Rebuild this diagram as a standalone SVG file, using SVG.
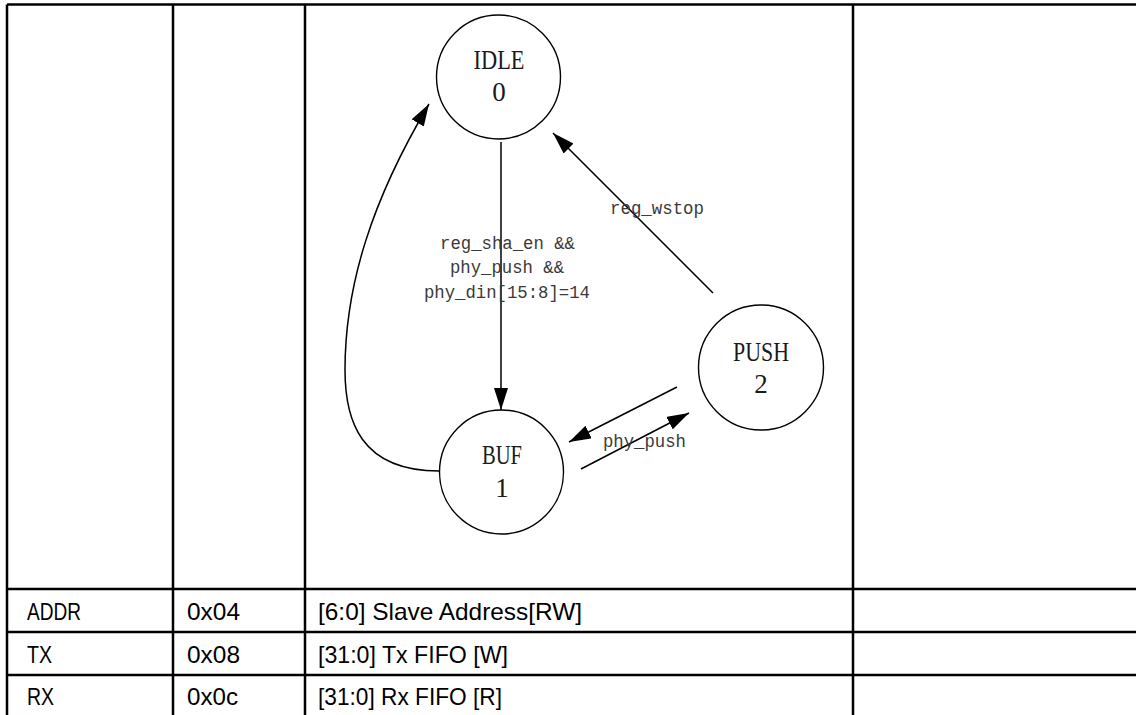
<svg xmlns="http://www.w3.org/2000/svg" width="1136" height="715" viewBox="0 0 1136 715">
<style>
.grid{stroke:#000;stroke-width:2.5;fill:none}
.state{fill:#fff;stroke:#000;stroke-width:1.4}
.sl{font-family:"Liberation Serif",serif;font-size:27px;fill:#1a1a1a;text-anchor:middle}
.edge{stroke:#000;stroke-width:1.5;fill:none;marker-end:url(#arr)}
.el{font-family:"Liberation Mono",monospace;font-size:19px;fill:#3a3a3a}
.cell{font-family:"Liberation Sans",sans-serif;font-size:24px;fill:#000}
</style>
<defs>
<marker id="arr" viewBox="0 0 22 14" refX="22" refY="7" markerWidth="22" markerHeight="14" markerUnits="userSpaceOnUse" orient="auto">
<path d="M0,0 L22,7 L0,14 z" fill="#000"/>
</marker>
</defs>
<rect width="1136" height="715" fill="#fff"/>
<g id="table">
<path class="grid" d="M7,4.5 H1136 M7,4.5 V715 M173,4.5 V715 M305,4.5 V715 M853,4.5 V715 M7,589 H1136 M7,632 H1136 M7,675 H1136"/>
<text class="cell" x="27" y="620" textLength="54" lengthAdjust="spacingAndGlyphs">ADDR</text>
<text class="cell" x="187" y="620" textLength="53" lengthAdjust="spacingAndGlyphs">0x04</text>
<text class="cell" x="318" y="620" textLength="264" lengthAdjust="spacingAndGlyphs">[6:0] Slave Address[RW]</text>
<text class="cell" x="27" y="663" textLength="25" lengthAdjust="spacingAndGlyphs">TX</text>
<text class="cell" x="187" y="663" textLength="53" lengthAdjust="spacingAndGlyphs">0x08</text>
<text class="cell" x="318" y="663" textLength="190" lengthAdjust="spacingAndGlyphs">[31:0] Tx FIFO [W]</text>
<text class="cell" x="27" y="705" textLength="27" lengthAdjust="spacingAndGlyphs">RX</text>
<text class="cell" x="187" y="705" textLength="51" lengthAdjust="spacingAndGlyphs">0x0c</text>
<text class="cell" x="318" y="705" textLength="184" lengthAdjust="spacingAndGlyphs">[31:0] Rx FIFO [R]</text>
</g>
<g id="connectors">
<path class="edge" d="M501,142 L501,410"/>
<path class="edge" d="M713,293 L553,133"/>
<path class="edge" d="M439,471 C360,471 345,420 345,370 C345,285 372,200 429,104"/>
<path class="edge" d="M677,387 L569,442"/>
<path class="edge" d="M581,469 L689,413"/>
<text class="el" x="440" y="249" textLength="135" lengthAdjust="spacingAndGlyphs">reg_sha_en &amp;&amp;</text>
<text class="el" x="450" y="273" textLength="114" lengthAdjust="spacingAndGlyphs">phy_push &amp;&amp;</text>
<text class="el" x="424" y="298" textLength="166" lengthAdjust="spacingAndGlyphs">phy_din[15:8]=14</text>
<text class="el" x="610" y="214" textLength="94" lengthAdjust="spacingAndGlyphs">reg_wstop</text>
<text class="el" x="603" y="447" textLength="83" lengthAdjust="spacingAndGlyphs">phy_push</text>
</g>
<g id="node-idle">
<circle class="state" cx="498.5" cy="77" r="62"/>
<text class="sl" x="499" y="69" textLength="51" lengthAdjust="spacingAndGlyphs">IDLE</text>
<text class="sl" x="499" y="101">0</text>
</g>
<g id="node-buf">
<circle class="state" cx="501.5" cy="472" r="62"/>
<text class="sl" x="502" y="464" textLength="40" lengthAdjust="spacingAndGlyphs">BUF</text>
<text class="sl" x="502" y="497">1</text>
</g>
<g id="node-push">
<circle class="state" cx="761" cy="367.5" r="62.5"/>
<text class="sl" x="761" y="361" textLength="56" lengthAdjust="spacingAndGlyphs">PUSH</text>
<text class="sl" x="761" y="393">2</text>
</g>
</svg>
